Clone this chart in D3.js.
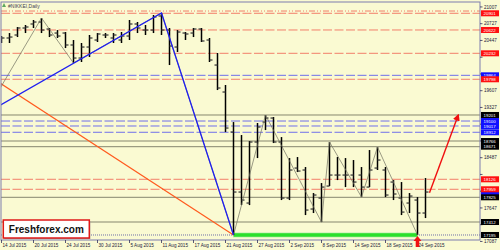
<!DOCTYPE html>
<html>
<head>
<meta charset="utf-8">
<script src="https://cdn.jsdelivr.net/npm/d3@7"></script>
<style>
  body { margin: 0; background: #FAFAD2; }
  svg text { font-family: "Liberation Sans", Arial, sans-serif; }
</style>
</head>
<body>
<div id="chart"></div>
<script>
// NIKKEI daily bars, 14 Jul - 24 Sep 2015

const dates = [
  "2015-07-14","2015-07-15","2015-07-16","2015-07-17","2015-07-20","2015-07-21","2015-07-22","2015-07-23",
  "2015-07-24","2015-07-27","2015-07-28","2015-07-29","2015-07-30","2015-07-31","2015-08-03","2015-08-04",
  "2015-08-05","2015-08-06","2015-08-07","2015-08-10","2015-08-11","2015-08-12","2015-08-13","2015-08-14",
  "2015-08-17","2015-08-18","2015-08-19","2015-08-20","2015-08-21","2015-08-24","2015-08-25","2015-08-26",
  "2015-08-27","2015-08-28","2015-08-31","2015-09-01","2015-09-02","2015-09-03","2015-09-04","2015-09-07",
  "2015-09-08","2015-09-09","2015-09-10","2015-09-11","2015-09-14","2015-09-15","2015-09-16","2015-09-17",
  "2015-09-18","2015-09-21","2015-09-22","2015-09-23","2015-09-24","2015-09-25"
];

const open = [20488,20488,20538,20655,20722,20755,20638,20571,20571,20371,20153,20337,20454,20538,20488,20454,
  20521,20722,20621,20621,20856,20621,20337,20571,20571,20638,20454,20036,19585,18916,17913,17729,
  18749,19083,19150,18749,17812,18314,18281,17629,17812,18013,18197,18197,18197,18197,17996,18314,
  18281,18080,17812,17729,17779,17562];
const high = [20521,20571,20672,20705,20789,20822,20655,20621,20588,20454,20404,20538,20571,20571,20571,20588,
  20789,20755,20705,20872,20906,20655,20621,20588,20655,20655,20488,20237,19702,19083,18866,18765,
  19067,19200,19167,18832,18481,18498,18331,17896,18063,18749,18498,18481,18448,18331,18615,18665,
  18331,18113,18080,17896,17829,18147];
const low = [20404,20404,20504,20571,20655,20571,20504,20488,20320,20070,20087,20170,20421,20488,20404,20404,
  20454,20571,20538,20571,20538,20036,20254,20454,20504,20421,20087,19618,18916,17194,17695,17695,
  18481,18949,18732,17779,17779,18247,17528,17562,17411,18013,18113,17996,17996,17829,17996,18281,
  17829,17779,17528,17562,17194,17478];
const close = [20488,20504,20655,20672,20755,20621,20538,20521,20371,20153,20337,20488,20555,20538,20538,20521,
  20722,20655,20621,20839,20621,20354,20588,20555,20638,20438,20120,19652,18983,17913,17779,18749,
  19000,19150,18749,17812,18281,18264,17612,17863,17996,18197,18197,18197,18080,17996,18281,18448,
  17863,17880,17578,17846,17562,17913];

// right axis ticks
const priceTicks = [21007,20727,20447,20167,19887,19607,19327,19047,18767,18487,18207,17927,17647,17367,17087];

// horizontal levels, their kind, and whether a price box is shown
const levelPrices = [20939,20901,20622,20232,19864,19798,19201,19100,19017,18912,18766,18671,18126,17959,17825,17412,17195];
const levelKinds  = ["reddot","red","red","red","blue","red","gray","blue","blue","blue","gray","gray","red","red","gray","gray","dot"];
const levelBoxed  = [false,true,true,true,true,true,true,true,true,true,true,true,true,true,true,true,true];
const extraMarks = [17880]; // blue price box without a line, mostly hidden

// zigzag turning points [bar index, price]
const zigzag = [[-1,19460],[5,20822],[9,20070],[20,20906],[29,17194],[33,19200],[40,17411],[41,18749],
  [45,17829],[47,18665],[52,17194]];
const blueLine = [[-1,19300],[20,20906],[29,17194]];
const orangeLine = [[-1,19805],[29,17194]];
const arrowLine = [[53.5,17900],[57.1,19200]];
const greenZone = [29, 52, 17195];

const W = 500, H = 250;
const pLeft = 1, pRight = 480, pTop = 2, pBottom = 240;

const parse = d3.timeParse("%Y-%m-%d");
const fmt = d3.timeFormat("%-d %b %Y");

const svg = d3.select("#chart").append("svg")
  .attr("width", W)
  .attr("height", H);

svg.append("rect").attr("width", W).attr("height", H).attr("fill", "#FAFAD2");

const x = d3.scaleLinear()
  .domain([0, dates.length - 1])
  .range([1.5, 1.5 + 8 * (dates.length - 1)]);

const y = d3.scaleLinear()
  .domain([17087, 21007])
  .range([241.45, 6.95]);

svg.append("clipPath").attr("id", "clip")
  .append("rect")
  .attr("x", pLeft).attr("y", pTop)
  .attr("width", pRight - pLeft).attr("height", pBottom - pTop);

const plot = svg.append("g").attr("clip-path", "url(#clip)");

const levelStyle = {
  reddot: { stroke: "#F27F6A", dash: "6,2,1,2,1,2" },
  red:    { stroke: "#F27F6A", dash: "9,2.5" },
  blue:   { stroke: "#6F6FEA", dash: "9,2.5" },
  gray:   { stroke: "#86866E", dash: null },
  dot:    { stroke: "#7070A8", dash: "1,1" }
};
const boxColor = { reddot: "#FF1010", red: "#FF1010", blue: "#1010FF", gray: "#000000", dot: "#000000" };

const levels = levelPrices.map((p, i) => ({ p, kind: levelKinds[i], boxed: levelBoxed[i] }));

plot.selectAll(".level")
  .data(levels)
  .enter()
  .append("line")
  .attr("x1", pLeft).attr("x2", pRight)
  .attr("y1", d => y(d.p)).attr("y2", d => y(d.p))
  .attr("stroke", d => levelStyle[d.kind].stroke)
  .attr("stroke-width", 1)
  .attr("stroke-dasharray", d => levelStyle[d.kind].dash);

// green zone
plot.append("rect")
  .attr("x", x(greenZone[0]))
  .attr("y", y(greenZone[2]) - 2)
  .attr("width", x(greenZone[1]) - x(greenZone[0]))
  .attr("height", 4)
  .attr("fill", "#2BE02B")
  .attr("stroke", "#9CE89C")
  .attr("stroke-width", 0.6);

// OHLC bars
const bars = dates.map((d, i) => ({ i, o: open[i], h: high[i], l: low[i], c: close[i] }));

const barG = plot.selectAll(".bar")
  .data(bars)
  .enter()
  .append("g");

barG.append("line")
  .attr("x1", d => x(d.i)).attr("x2", d => x(d.i))
  .attr("y1", d => y(d.h)).attr("y2", d => y(d.l))
  .attr("stroke", "#000").attr("stroke-width", 1.5);

barG.append("line")
  .attr("x1", d => x(d.i) - 3).attr("x2", d => x(d.i))
  .attr("y1", d => y(d.o)).attr("y2", d => y(d.o))
  .attr("stroke", "#333").attr("stroke-width", 1.2);

barG.append("line")
  .attr("x1", d => x(d.i)).attr("x2", d => x(d.i) + 3)
  .attr("y1", d => y(d.c)).attr("y2", d => y(d.c))
  .attr("stroke", "#333").attr("stroke-width", 1.2);

const line = d3.line().x(d => x(d[0])).y(d => y(d[1]));

plot.append("path").datum(orangeLine)
  .attr("d", line).attr("fill", "none")
  .attr("stroke", "#FF5A1E").attr("stroke-width", 1.2);

plot.append("path").datum(zigzag)
  .attr("d", line).attr("fill", "none")
  .attr("stroke", "#707060").attr("stroke-width", 0.7);

plot.append("path").datum(blueLine)
  .attr("d", line).attr("fill", "none")
  .attr("stroke", "#2020F0").attr("stroke-width", 1.3);

// red arrow
svg.append("defs").append("marker")
  .attr("id", "head")
  .attr("viewBox", "0 0 10 10")
  .attr("refX", 8).attr("refY", 5)
  .attr("markerWidth", 5).attr("markerHeight", 5)
  .attr("orient", "auto")
  .append("path").attr("d", "M0,0L10,5L0,10Z").attr("fill", "#F01010");

plot.append("path").datum(arrowLine)
  .attr("d", line).attr("fill", "none")
  .attr("stroke", "#F01010").attr("stroke-width", 1.4)
  .attr("marker-end", "url(#head)");

// frame
svg.append("rect")
  .attr("x", pLeft).attr("y", pTop)
  .attr("width", pRight - pLeft).attr("height", pBottom - pTop)
  .attr("fill", "none")
  .attr("stroke", "#7C7CAE").attr("stroke-width", 1);

// price boxes: extra (hidden) ones first so the level boxes sit on top
const marks = extraMarks.map(p => ({ p, color: "#1010FF", label: false }))
  .concat(levels.filter(d => d.boxed).map(d => ({ p: d.p, color: boxColor[d.kind], label: true })));

// right axis
const axisG = svg.append("g");
axisG.selectAll("line")
  .data(priceTicks)
  .enter()
  .append("line")
  .attr("x1", pRight).attr("x2", pRight + 2.5)
  .attr("y1", d => y(d)).attr("y2", d => y(d))
  .attr("stroke", "#30305A").attr("stroke-width", 0.8);
axisG.selectAll("text")
  .data(priceTicks.filter(t => !marks.some(m => Math.abs(y(m.p) - y(t)) < 5)))
  .enter()
  .append("text")
  .attr("x", pRight + 4)
  .attr("y", d => y(d))
  .attr("dy", "0.35em")
  .attr("font-size", 4.6)
  .attr("fill", "#20203A")
  .text(d => d);

// bottom axis
const dateTicks = d3.range(0, dates.length, 4);
const dateG = svg.append("g");
dateG.selectAll("line")
  .data(dateTicks)
  .enter()
  .append("line")
  .attr("x1", d => x(d)).attr("x2", d => x(d))
  .attr("y1", pBottom).attr("y2", pBottom + 3)
  .attr("stroke", "#30305A").attr("stroke-width", 0.8);
dateG.selectAll("text")
  .data(dateTicks)
  .enter()
  .append("text")
  .attr("x", d => x(d) + 1)
  .attr("y", 247)
  .attr("font-size", 4.6)
  .attr("fill", "#20203A")
  .text(d => fmt(parse(dates[d])));

const boxG = svg.selectAll(".box")
  .data(marks)
  .enter()
  .append("g")
  .attr("transform", d => `translate(${pRight + 1}, ${y(d.p)})`);
boxG.append("rect")
  .attr("x", 0).attr("y", -3)
  .attr("width", 18).attr("height", 6)
  .attr("fill", d => d.color);
boxG.filter(d => d.label).append("text")
  .attr("x", 2.5).attr("y", 0)
  .attr("dy", "0.35em")
  .attr("font-size", 4.4)
  .attr("fill", "#fff")
  .text(d => d.p);

// bottom red up-arrow under the low bar
svg.append("path")
  .attr("d", `M${x(52)},${y(17194) + 1} l4,5 l-2.2,0 l0,6 l-3.6,0 l0,-6 l-2.2,0 Z`)
  .attr("fill", "#F01010");

// title
svg.append("path")
  .attr("d", "M2,7 L4,3 L6,7 Z")
  .attr("fill", "#5FA85F");
svg.append("text")
  .attr("x", 8).attr("y", 7.5)
  .attr("font-size", 5)
  .attr("fill", "#404050")
  .text("#NIKKEI,Daily");

// logo
svg.append("rect")
  .attr("x", 4.3).attr("y", 221)
  .attr("width", 86).attr("height", 18)
  .attr("fill", "#A0A0A0");
svg.append("rect")
  .attr("x", 3.3).attr("y", 220)
  .attr("width", 86).attr("height", 18)
  .attr("fill", "#fff")
  .attr("stroke", "#E01818").attr("stroke-width", 1.5);
svg.append("text")
  .attr("x", 46.3).attr("y", 233)
  .attr("text-anchor", "middle")
  .attr("font-size", 10)
  .attr("font-weight", "bold")
  .attr("fill", "#111")
  .text("Freshforex.com");
</script>
</body>
</html>
